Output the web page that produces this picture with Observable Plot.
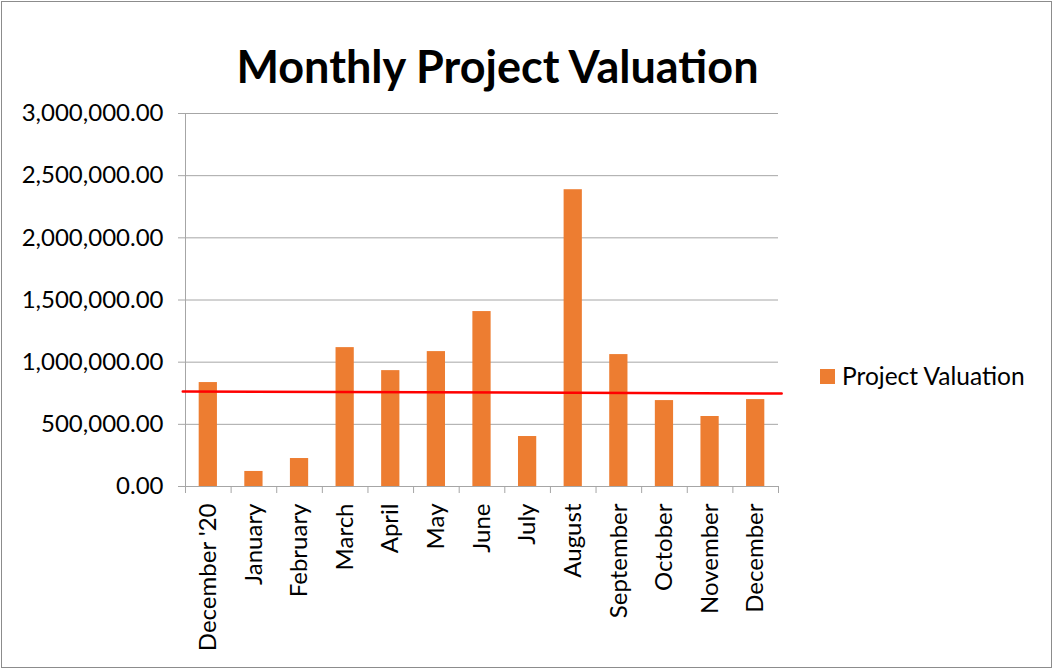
<!DOCTYPE html>
<html>
<head>
<meta charset="utf-8">
<script src="https://cdn.jsdelivr.net/npm/d3@7"></script>
<script src="https://cdn.jsdelivr.net/npm/@observablehq/plot@0.6"></script>
<style>
  html, body { margin: 0; padding: 0; background: #fff; }
  #chart { position: relative; width: 1055px; height: 671px; font-family: Lato, "Open Sans", sans-serif; }
  #frame { position: absolute; left: 1px; top: 1px; width: 1051px; height: 667px; border: 1px solid #8c8c8c; box-sizing: border-box; pointer-events: none; }
  #title { position: absolute; left: 0; width: 995px; top: 39px; text-align: center; font-size: 45px; font-weight: bold; color: #000; line-height: normal; }
  #legend-sw { position: absolute; left: 820px; top: 369px; width: 15px; height: 15px; background: #ED7D31; }
  #legend-tx { position: absolute; left: 842px; top: 361px; font-size: 24.5px; color: #000; line-height: normal; }
  svg { position: absolute; left: 0; top: 0; }
</style>
</head>
<body>
<div id="chart">
  <div id="title">Monthly Project Valuation</div>
  <div id="legend-sw"></div>
  <div id="legend-tx">Project Valuation</div>
  <div id="frame"></div>
</div>
<script>
const months = ["December '20", "January", "February", "March", "April", "May", "June", "July", "August", "September", "October", "November", "December"];
const values = [836000, 121000, 225000, 1117000, 932000, 1085000, 1407000, 402000, 2387000, 1061000, 691000, 563000, 699000];
const yTicks = [0, 500000, 1000000, 1500000, 2000000, 2500000, 3000000];
const trendX = [-0.56, 12.57];
const trendY = [764000, 748000];

const data = months.map((m, i) => ({i, month: m, value: values[i]}));
const trend = trendX.map((x, k) => ({x, y: trendY[k]}));
const boundaries = d3.range(months.length + 1).map(i => i - 0.5);
const grey = "#a6a6a6";

const plot = Plot.plot({
  width: 1055,
  height: 671,
  marginLeft: 185,
  marginRight: 277,
  marginTop: 113,
  marginBottom: 185,
  style: {fontFamily: "Lato, 'Open Sans', sans-serif", fontSize: "24px", color: "#000", background: "transparent"},
  x: {type: "linear", domain: [-0.5, months.length - 0.5]},
  y: {domain: [0, 3000000]},
  marks: [
    Plot.gridY(yTicks, {stroke: grey, strokeOpacity: 1, strokeWidth: 1}),
    Plot.rectY(data, {x1: d => d.i - 0.2, x2: d => d.i + 0.2, y: "value", fill: "#ED7D31"}),
    Plot.ruleX([-0.5], {stroke: grey, strokeWidth: 1}),
    Plot.ruleY([0], {stroke: grey, strokeWidth: 1}),
    Plot.axisY({ticks: yTicks, tickFormat: d3.format(",.2f"), tickSize: 7, tickPadding: 15, stroke: grey, strokeOpacity: 1, label: null, fontSize: 24, fill: "#000"}),
    Plot.axisX({ticks: boundaries, tickSize: 7, tickFormat: () => "", stroke: grey, strokeOpacity: 1, label: null}),
    Plot.axisX({ticks: d3.range(months.length), tickFormat: i => months[i], tickRotate: -90, tickSize: 0, tickPadding: 17, label: null, fontSize: 24, fill: "#000"}),
    Plot.line(trend, {x: "x", y: "y", stroke: "#ff0000", strokeWidth: 2.5})
  ]
});
document.getElementById("chart").insertBefore(plot, document.getElementById("title"));
</script>
</body>
</html>
